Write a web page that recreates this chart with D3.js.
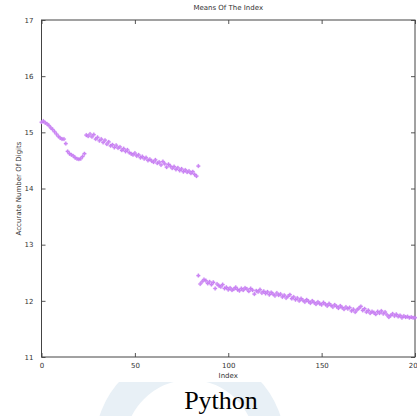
<!DOCTYPE html>
<html>
<head>
<meta charset="utf-8">
<script src="https://cdn.jsdelivr.net/npm/d3@7"></script>
<style>
  body { margin: 0; background: #fff; }
  svg { display: block; }
</style>
</head>
<body>
<div id="chart"></div>
<script>
// Means of the index
const upperStart = 0;
const upperMeans = [
  15.18, 15.20, 15.17, 15.15, 15.12, 15.08, 15.05, 15.01, 14.97, 14.93,
  14.90, 14.88, 14.88, 14.80, 14.66, 14.62, 14.60, 14.58, 14.55, 14.53,
  14.52, 14.53, 14.57, 14.62,
  14.95, 14.93, 14.97, 14.92, 14.96, 14.88, 14.91, 14.85, 14.88, 14.82,
  14.86, 14.79, 14.83, 14.76, 14.78, 14.73, 14.77, 14.72, 14.74, 14.68,
  14.71, 14.66, 14.69, 14.64, 14.62, 14.60, 14.63, 14.58, 14.60, 14.55,
  14.57, 14.53, 14.55, 14.50, 14.52, 14.49, 14.47, 14.51, 14.45, 14.47,
  14.42, 14.48, 14.44, 14.38, 14.43, 14.40, 14.36, 14.39, 14.34, 14.37,
  14.32, 14.35, 14.30, 14.33, 14.29, 14.31, 14.27, 14.30, 14.25, 14.22,
  14.40
];
const lowerStart = 84;
const lowerMeans = [
  12.45, 12.30, 12.34, 12.38, 12.36, 12.31, 12.34, 12.29, 12.33, 12.22,
  12.30, 12.27, 12.25, 12.29, 12.22, 12.24, 12.20, 12.23, 12.19, 12.21,
  12.24, 12.20, 12.18, 12.22, 12.19, 12.23, 12.21, 12.17, 12.22, 12.19,
  12.12, 12.18, 12.16, 12.20, 12.14, 12.17, 12.13, 12.16, 12.11, 12.15,
  12.12, 12.09, 12.14, 12.10, 12.12, 12.07, 12.10, 12.05, 12.08, 12.11,
  12.04, 12.07, 12.02, 12.05, 12.00, 12.04, 12.01, 11.98, 12.02, 11.99,
  11.96, 12.00, 11.97, 11.94, 11.98, 11.95, 11.93, 11.97, 11.94, 11.91,
  11.95, 11.92, 11.89, 11.93, 11.90, 11.87, 11.91, 11.88, 11.85, 11.89,
  11.86, 11.88, 11.82, 11.85, 11.80, 11.84, 11.87, 11.90, 11.83, 11.86,
  11.80, 11.83, 11.78, 11.81, 11.79, 11.76, 11.81, 11.78, 11.82, 11.77,
  11.80, 11.75, 11.71, 11.74, 11.77, 11.73, 11.76, 11.72, 11.74, 11.70,
  11.73, 11.71, 11.72, 11.70, 11.71, 11.70, 11.70
];
const xTicks = [0, 50, 100, 150, 200];
const yTicks = [11, 12, 13, 14, 15, 16, 17];

const points = [
  ...upperMeans.map((v, i) => ({ index: upperStart + i, mean: v })),
  ...lowerMeans.map((v, i) => ({ index: lowerStart + i, mean: v }))
];

const width = 417, height = 416;
const svg = d3.select("#chart").append("svg")
    .attr("width", width)
    .attr("height", height);

// faint watermark behind the caption
svg.append("circle")
    .attr("cx", 190).attr("cy", 445)
    .attr("r", 80)
    .attr("fill", "none")
    .attr("stroke", "#e8f0f6")
    .attr("stroke-width", 30);
svg.append("rect")
    .attr("x", 0).attr("y", 0)
    .attr("width", width).attr("height", 382)
    .attr("fill", "#fff");

const x = d3.scaleLinear().domain([0, 200]).range([41.5, 415]);
const y = d3.scaleLinear().domain([11, 17]).range([357, 20]);

const axisFont = "DejaVu Sans, Verdana, sans-serif";
const styleAxis = g => {
    g.selectAll(".domain").remove();
    g.selectAll(".tick line").attr("stroke", "#555");
    g.selectAll(".tick text")
        .attr("fill", "#333")
        .style("font-family", axisFont)
        .style("font-size", "7px");
};

// Axes, ticks pointing inward on all four sides
svg.append("g")
    .attr("transform", `translate(0,${y(11)})`)
    .call(d3.axisBottom(x).tickValues(xTicks).tickSizeInner(-4).tickSizeOuter(0).tickPadding(6))
    .call(styleAxis);
svg.append("g")
    .attr("transform", `translate(0,${y(17)})`)
    .call(d3.axisTop(x).tickValues(xTicks).tickSizeInner(-4).tickSizeOuter(0).tickFormat(""))
    .call(styleAxis);
svg.append("g")
    .attr("transform", `translate(${x(0)},0)`)
    .call(d3.axisLeft(y).tickValues(yTicks).tickFormat(d3.format("d"))
        .tickSizeInner(-4).tickSizeOuter(0).tickPadding(8))
    .call(styleAxis);
svg.append("g")
    .attr("transform", `translate(${x(200)},0)`)
    .call(d3.axisRight(y).tickValues(yTicks).tickSizeInner(-4).tickSizeOuter(0).tickFormat(""))
    .call(styleAxis);

// Plot frame
svg.append("rect")
    .attr("x", x(0)).attr("y", y(17))
    .attr("width", x(200) - x(0))
    .attr("height", y(11) - y(17))
    .attr("fill", "none")
    .attr("stroke", "#444")
    .attr("stroke-width", 1);

// Points as small plus marks
const cross = d3.symbol().type(d3.symbolCross).size(7);
svg.append("g")
    .selectAll("path")
    .data(points)
    .join("path")
    .attr("d", cross)
    .attr("transform", d => `translate(${x(d.index)},${y(d.mean)})`)
    .attr("fill", "#cf8af5")
    .attr("stroke", "#c070f0")
    .attr("stroke-width", 0.3);

// Titles
svg.append("text")
    .attr("x", (x(0) + x(200)) / 2).attr("y", 10)
    .attr("text-anchor", "middle")
    .attr("fill", "#333")
    .style("font-family", axisFont)
    .style("font-size", "7px")
    .text("Means Of The Index");

svg.append("text")
    .attr("x", (x(0) + x(200)) / 2).attr("y", 378)
    .attr("text-anchor", "middle")
    .attr("fill", "#333")
    .style("font-family", axisFont)
    .style("font-size", "7px")
    .text("Index");

svg.append("text")
    .attr("transform", `translate(21,${(y(11) + y(17)) / 2}) rotate(-90)`)
    .attr("text-anchor", "middle")
    .attr("fill", "#333")
    .style("font-family", axisFont)
    .style("font-size", "7px")
    .text("Accurate Number Of Digits");

svg.append("text")
    .attr("x", 221).attr("y", 409)
    .attr("text-anchor", "middle")
    .attr("fill", "#000")
    .style("font-family", "Liberation Serif, Times New Roman, serif")
    .style("font-size", "26px")
    .text("Python");
</script>
</body>
</html>
